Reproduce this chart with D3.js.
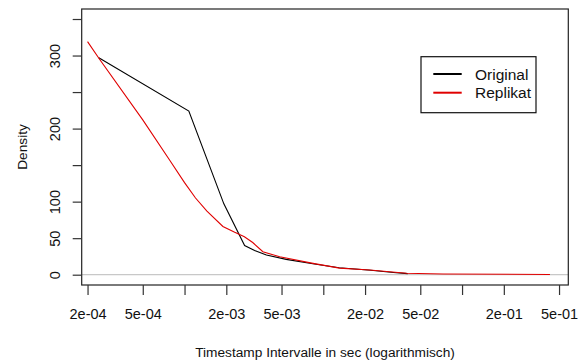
<!DOCTYPE html>
<html lang="de">
<head>
<meta charset="UTF-8" />
<title>Density Timestamp Intervalle</title>
<style>
  html, body { margin: 0; padding: 0; background: #fff; }
  svg { display: block; font-family: "Liberation Sans", Arial, sans-serif; }
</style>
</head>
<body>
<script src="https://d3js.org/d3.v7.min.js"></script>
<script>
// Original (black)
const origX = [2.41e-4, 1.074e-3, 1.92e-3, 2.71e-3, 3.2e-3, 3.89e-3, 5.4e-3, 8.4e-3, 1.3e-2, 2.2e-2, 3.2e-2, 4.06e-2];
const origY = [297, 224, 97, 40, 33, 27, 21, 15, 9.5, 6, 3, 1.5];

// Replikat (red)
const repX = [2.0e-4, 2.42e-4, 5.0e-4, 7.8e-4, 1.0e-3, 1.2e-3, 1.45e-3, 1.89e-3, 2.3e-3, 2.7e-3, 3.1e-3, 3.67e-3, 4.85e-3, 8.43e-3, 1.31e-2, 2.16e-2, 3.98e-2, 7.31e-2, 0.43];
const repY = [319, 296, 212, 157, 126, 105, 87, 66, 58, 52, 44, 31.5, 24.5, 15.5, 9, 6.4, 2, 1, 0.3];

const xTicks = [2e-4, 5e-4, 1e-3, 2e-3, 5e-3, 1e-2, 2e-2, 5e-2, 1e-1, 2e-1, 5e-1];
const xLabels = ["2e-04", "5e-04", "", "2e-03", "5e-03", "", "2e-02", "5e-02", "", "2e-01", "5e-01"];
const yTicks = [0, 50, 100, 150, 200, 250, 300, 350];
const yLabels = ["0", "50", "100", "", "200", "", "300", ""];

const legendNames = ["Original", "Replikat"];
const legendColors = ["#000", "#e00000"];

const width = 584, height = 362;
const margin = {top: 9, right: 15.7, bottom: 77, left: 81.7};

const x = d3.scaleLog()
  .domain([1.815e-4, 0.583])
  .range([margin.left, width - margin.right]);

const y = d3.scaleLinear()
  .domain([-14.1, 363.7])
  .range([height - margin.bottom, margin.top]);

const svg = d3.select("body").append("svg")
  .attr("width", width)
  .attr("height", height);

// zero line
svg.append("line")
  .attr("x1", margin.left).attr("x2", width - margin.right)
  .attr("y1", y(0)).attr("y2", y(0))
  .attr("stroke", "#c8c8c8")
  .attr("stroke-width", 1.3);

const line = d3.line().x(d => x(d[0])).y(d => y(d[1]));

svg.append("path")
  .datum(d3.zip(origX, origY))
  .attr("fill", "none")
  .attr("stroke", legendColors[0])
  .attr("stroke-width", 1.1)
  .attr("d", line);

svg.append("path")
  .datum(d3.zip(repX, repY))
  .attr("fill", "none")
  .attr("stroke", legendColors[1])
  .attr("stroke-width", 1.1)
  .attr("d", line);

// box
svg.append("rect")
  .attr("x", margin.left).attr("y", margin.top)
  .attr("width", width - margin.right - margin.left)
  .attr("height", height - margin.bottom - margin.top)
  .attr("fill", "none")
  .attr("stroke", "#222")
  .attr("stroke-width", 1.2);

// x axis
const xAxis = svg.append("g")
  .attr("transform", `translate(0,${height - margin.bottom})`)
  .call(d3.axisBottom(x).tickValues(xTicks).tickSize(10).tickPadding(14)
    .tickFormat((d, i) => xLabels[i]));
xAxis.select(".domain").remove();
xAxis.selectAll("line").attr("stroke", "#333").attr("stroke-width", 1.2);
xAxis.selectAll("text").attr("font-size", 14.5).attr("fill", "#111")
  .attr("font-family", "Liberation Sans, Arial, sans-serif");

// y axis, labels rotated like R's default
const yAxis = svg.append("g")
  .attr("transform", `translate(${margin.left},0)`)
  .call(d3.axisLeft(y).tickValues(yTicks).tickSize(9).tickFormat((d, i) => yLabels[i]));
yAxis.select(".domain").remove();
yAxis.selectAll("line").attr("stroke", "#333").attr("stroke-width", 1.2);
yAxis.selectAll(".tick text")
  .attr("font-size", 14.5).attr("fill", "#111")
  .attr("font-family", "Liberation Sans, Arial, sans-serif")
  .attr("x", 0).attr("y", 0).attr("dy", null)
  .attr("text-anchor", "middle")
  .attr("dominant-baseline", "central")
  .attr("transform", "translate(-27,0) rotate(-90)");

// axis titles
svg.append("text")
  .attr("x", (margin.left + width - margin.right) / 2)
  .attr("y", 357)
  .attr("text-anchor", "middle")
  .attr("font-size", 13.7)
  .attr("fill", "#111")
  .text("Timestamp Intervalle in sec (logarithmisch)");

svg.append("text")
  .attr("transform", `translate(27,${(margin.top + height - margin.bottom) / 2}) rotate(-90)`)
  .attr("text-anchor", "middle")
  .attr("font-size", 13.7)
  .attr("fill", "#111")
  .text("Density");

// legend
const lg = svg.append("g");
lg.append("rect")
  .attr("x", 421).attr("y", 56.7)
  .attr("width", 115).attr("height", 56)
  .attr("fill", "#fff")
  .attr("stroke", "#111")
  .attr("stroke-width", 1.2);

legendNames.forEach((name, i) => {
  const ly = 74 + i * 18.7;
  lg.append("line")
    .attr("x1", 433.3).attr("x2", 461.7)
    .attr("y1", ly).attr("y2", ly)
    .attr("stroke", legendColors[i])
    .attr("stroke-width", 2);
  lg.append("text")
    .attr("x", 475).attr("y", ly)
    .attr("dominant-baseline", "central")
    .attr("font-size", 15.5)
    .attr("fill", "#111")
    .text(name);
});
</script>
</body>
</html>
